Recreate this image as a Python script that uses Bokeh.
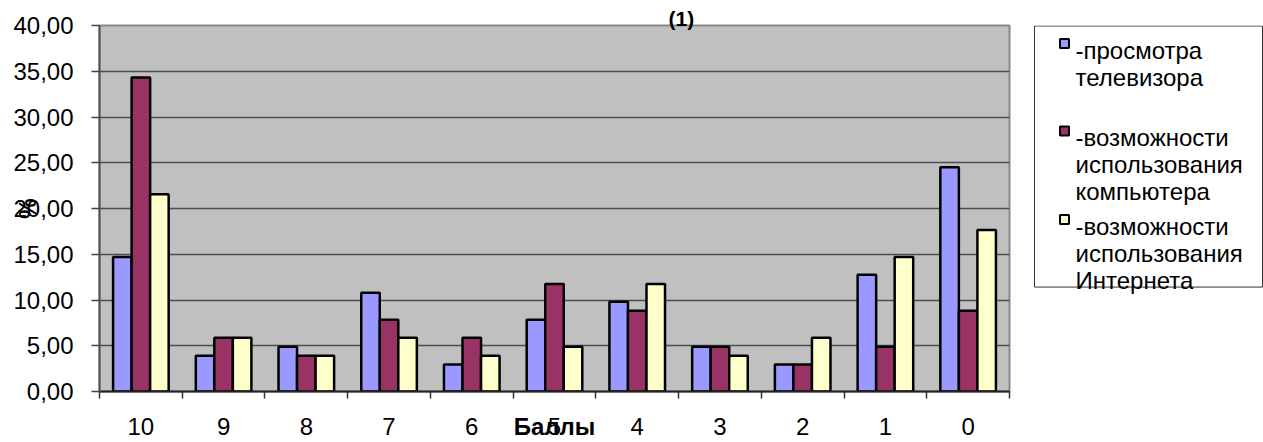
from bokeh.plotting import figure
from bokeh.models import Range1d, FixedTicker, ColumnDataSource, CustomJSTickFormatter
from bokeh.transform import dodge
from bokeh.layouts import row
from bokeh.embed import file_html
from bokeh.resources import INLINE
from bokeh.core.properties import value

# ---------------- data ----------------
categories = ["10", "9", "8", "7", "6", "5", "4", "3", "2", "1", "0"]
tv = [14.71, 3.92, 4.90, 10.78, 2.94, 7.84, 9.80, 4.90, 2.94, 12.75, 24.51]
computer = [34.31, 5.88, 3.92, 7.84, 5.88, 11.76, 8.82, 4.90, 2.94, 4.90, 8.82]
internet = [21.57, 5.88, 3.92, 5.88, 3.92, 4.90, 11.76, 3.92, 5.88, 14.71, 17.65]
series_labels = [
    "-просмотра\nтелевизора",
    "-возможности\nиспользования\nкомпьютера",
    "-возможности\nиспользования\nИнтернета",
]
y_ticks = [0, 5, 10, 15, 20, 25, 30, 35, 40]
title_text = "(1)"
y_label = "%"
x_label = "Баллы"

# ---------------- style ----------------
FONT = "Liberation Sans"
colors = ["#9999FF", "#993366", "#FFFFCC"]
bar_w = 0.224

n = len(categories)
src = ColumnDataSource(dict(
    x=[i + 0.5 for i in range(n)],
    tv=tv, comp=computer, inet=internet,
))

p = figure(width=1024, height=442, x_range=Range1d(0, n), y_range=Range1d(0, 40),
           output_backend="svg", toolbar_location=None, title=title_text,
           min_border_left=99, min_border_right=15, min_border_top=25, min_border_bottom=49,
           background_fill_color="#C0C0C0", border_fill_color="white",
           outline_line_color="#888888", outline_line_width=2)

p.title.text_font = FONT
p.title.text_font_size = "21px"
p.title.text_font_style = "bold"
p.title.align = "left"
p.title.offset = 569
p.title.standoff = -8
p.title.text_color = "black"

for key, off, c in zip(["tv", "comp", "inet"], [-bar_w, 0, bar_w], colors):
    p.vbar(x=dodge("x", off, range=p.x_range), top=key, bottom=0, width=bar_w, source=src,
           fill_color=c, line_color="black", line_width=2.5)

# x axis: labels at centers, tick marks at category boundaries
xa = p.xaxis[0]
xa.ticker = FixedTicker(ticks=[i + 0.5 for i in range(n)], minor_ticks=list(range(n + 1)))
xa.formatter = CustomJSTickFormatter(args=dict(cats=categories), code="return cats[Math.floor(tick)];")
xa.major_tick_out = 0
xa.major_tick_in = 0
xa.minor_tick_out = 7
xa.minor_tick_in = 0
xa.minor_tick_line_color = "#333333"
xa.minor_tick_line_width = 1.5
xa.axis_line_color = "#222222"
xa.axis_line_width = 2
xa.major_label_standoff = 19
xa.major_label_text_font = FONT
xa.major_label_text_font_size = "24px"
xa.major_label_text_color = "black"
xa.axis_label = x_label
xa.axis_label_text_font = FONT
xa.axis_label_text_font_size = "24px"
xa.axis_label_text_font_style = "bold"
xa.axis_label_text_color = "black"
xa.axis_label_standoff = -25

ya = p.yaxis[0]
ya.ticker = FixedTicker(ticks=y_ticks)
ya.formatter = CustomJSTickFormatter(code="return tick.toFixed(2).replace('.', ',');")
ya.major_tick_out = 8
ya.major_tick_in = 0
ya.minor_tick_out = 0
ya.minor_tick_in = 0
ya.major_tick_line_color = "#444444"
ya.major_tick_line_width = 1.5
ya.axis_line_color = "#555555"
ya.axis_line_width = 2
ya.major_label_standoff = 18
ya.major_label_text_font = FONT
ya.major_label_text_font_size = "24px"
ya.major_label_text_color = "black"
ya.axis_label = y_label
ya.axis_label_text_font = FONT
ya.axis_label_text_font_size = "23px"
ya.axis_label_text_font_style = "bold"
ya.axis_label_text_color = "black"
ya.axis_label_standoff = -31

p.xgrid.visible = False
p.ygrid.grid_line_color = "#4d4d4d"
p.ygrid.grid_line_width = 1.5

# ---------------- legend panel ----------------
# (its frame is aligned with the chart frame, rows 25..393 of the page)
leg = figure(width=239, height=442, x_range=Range1d(1024, 1263), y_range=Range1d(393, 25),
             output_backend="svg", toolbar_location=None, title=None, min_border=0,
             x_axis_location=None, y_axis_location=None, outline_line_color=None,
             background_fill_color="white", border_fill_color="white")
leg.grid.visible = False
leg.quad(left=1034, right=1262, top=25.5, bottom=288, fill_color="white",
         line_color="#333333", line_width=1)

item_baselines = [50, 138, 227]
line_step = 27
lx, ly, lt = [], [], []
for lab, b in zip(series_labels, item_baselines):
    for k, line in enumerate(lab.split("\n")):
        lx.append(1075)
        ly.append(b + k * line_step)
        lt.append(line)
leg.text(x=lx, y=ly, text=lt, text_font=value(FONT), text_font_size="24px",
         text_baseline="alphabetic", text_align="left", text_color="black")
leg.rect(x=[1064] * 3, y=[b - 7 for b in item_baselines], width=9, height=9,
         fill_color=colors, line_color="black", line_width=2)

layout = row(p, leg)
open("out.html", "w").write(file_html(layout, INLINE))
